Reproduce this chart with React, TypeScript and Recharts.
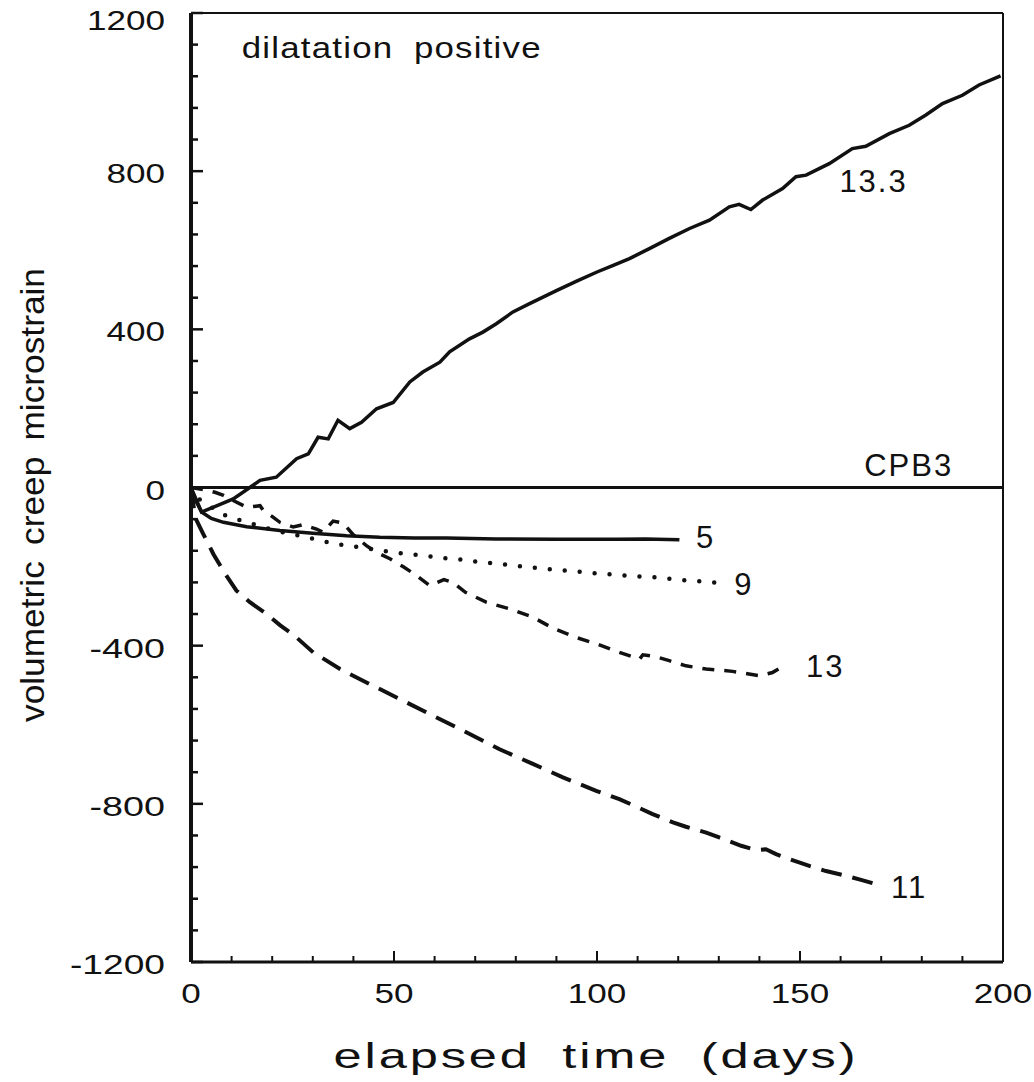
import {
  Label,
  Line,
  LineChart,
  ReferenceDot,
  ReferenceLine,
  XAxis,
  YAxis,
} from 'recharts'

// Values (days vs. volumetric creep microstrain).
const days133 = [0, 2.6, 6, 10.4, 14.5, 17, 21, 26, 28.9, 31.3, 33.8, 36.2, 39.1, 42, 45.7, 49.8, 53.9, 57.1, 61.3, 63.7, 68.6, 71.9, 75.2, 79.3, 83.4, 90, 95, 100, 104, 108, 112.9, 117.8, 122.8, 127.7, 132.6, 135, 137.9, 140.8, 145.7, 149, 151.5, 157.2, 162.9, 166.2, 172, 176.9, 181, 185.1, 190, 194.1, 199.4]
const strain133 = [0, -62, -48, -29, 0, 18, 26, 73, 85, 127, 123, 170, 149, 165, 199, 215, 267, 292, 317, 343, 376, 393, 414, 444, 465, 498, 522, 545, 562, 579, 604, 630, 655, 676, 710, 716, 703, 727, 756, 786, 790, 819, 857, 863, 895, 916, 942, 971, 992, 1018, 1041]

const days5 = [0, 1, 2.6, 5, 8, 13.7, 21.9, 30, 38.3, 46.5, 55, 62.9, 75.2, 90, 105, 112, 120.3]
const strain5 = [0, -30, -62, -78, -88, -99, -109, -116, -122, -126, -128, -128, -130, -131, -131, -130, -132]

const days9 = [0, 1.8, 7.5, 10.8, 14.5, 18.2, 23, 28.5, 32.1, 35.4, 39.1, 44, 49.8, 53.5, 56.7, 60.4, 64.1, 67.8, 71.1, 74.8, 78.5, 85.4, 92.4, 99.8, 107.2, 114.6, 121.9, 128.9]
const strain9 = [0, -28, -67, -79, -90, -102, -114, -126, -134, -143, -147, -155, -164, -168, -172, -176, -181, -183, -189, -192, -196, -204, -210, -217, -223, -227, -235, -240]

const days13 = [0, 3, 5.9, 8, 10.4, 13.7, 17, 17.8, 20.2, 21.9, 25.2, 27.6, 30.9, 32.5, 35, 37.5, 40, 43.2, 45.7, 49, 52.2, 55.5, 58.8, 62.3, 64.5, 67.6, 72.7, 78.5, 84.2, 89.2, 94.5, 100, 105.5, 110.5, 111.3, 114.6, 117.8, 121.9, 126.9, 133.4, 140, 143.2, 146.5]
const strain13 = [0, -5, -12, -20, -33, -50, -46, -58, -75, -88, -100, -94, -105, -113, -85, -90, -120, -147, -164, -180, -200, -222, -248, -233, -240, -265, -290, -307, -328, -356, -378, -396, -417, -434, -423, -428, -438, -451, -459, -465, -476, -468, -448]

const days11 = [0, 1, 3, 5.5, 8.4, 11.2, 14.5, 18.6, 21.9, 25.2, 30.1, 36.7, 44, 52.2, 59.6, 67.8, 76, 84.2, 91.6, 99.8, 105.5, 110.5, 113.7, 118.7, 121.9, 126.9, 130.1, 135.5, 139.2, 141.6, 144.1, 147.4, 152.3, 156.4, 161.3, 164.6, 168.3]
const strain11 = [0, -75, -117, -168, -218, -261, -290, -320, -348, -372, -417, -459, -497, -539, -577, -619, -662, -699, -733, -767, -788, -811, -826, -847, -858, -873, -885, -906, -917, -915, -927, -940, -957, -970, -982, -991, -1002]

const xTicks = Array.from({ length: 21 }, (_, i) => i * 10)
const yTicks = Array.from({ length: 31 }, (_, i) => -1200 + i * 80)

// curve labels: text, day, strain (text baseline)
const curveLabels: [string, number, number][] = [
  ['13.3', 159.7, 747],
  ['5', 124.4, -154],
  ['9', 133.8, -273],
  ['13', 151.5, -480],
  ['11', 172.4, -1037],
  ['CPB3', 165.8, 30],
]

const FONT = '"Liberation Sans", Arial, sans-serif'
const INK = '#111'

// the scanned lettering is wider than Arial, so labels are stretched to width
const numWidth = (s: string) =>
  s.replace('-', '').length * 19.5 + (s.startsWith('-') ? 17 : 0)

const toPoints = (days: number[], vals: number[]) =>
  days.map((d, i) => ({ day: d, v: vals[i] }))

const s133 = toPoints(days133, strain133)
const s5 = toPoints(days5, strain5)
const s9 = toPoints(days9, strain9)
const s13 = toPoints(days13, strain13)
const s11 = toPoints(days11, strain11)

function YTick({ x, y, payload }: any) {
  const v = payload.value as number
  const major = v % 400 === 0
  const s = String(v)
  return (
    <g>
      <line x1={x} x2={x + (major ? 12 : 7)} y1={y} y2={y} stroke={INK} strokeWidth={2.5} />
      {major && (
        <text
          x={x - 26}
          y={y + (v === 1200 ? 17 : 12)}
          textAnchor="end"
          fontFamily={FONT}
          fontSize={28}
          textLength={numWidth(s)}
          lengthAdjust="spacingAndGlyphs"
          fill={INK}
        >
          {s}
        </text>
      )}
    </g>
  )
}

function XTick({ x, y, payload }: any) {
  const v = payload.value as number
  const major = v % 50 === 0
  const s = String(v)
  return (
    <g>
      <line x1={x} x2={x} y1={y} y2={y - (major ? 11 : 6)} stroke={INK} strokeWidth={2} />
      {major && (
        <text
          x={x}
          y={y + 41}
          textAnchor="middle"
          fontFamily={FONT}
          fontSize={28}
          textLength={numWidth(s)}
          lengthAdjust="spacingAndGlyphs"
          fill={INK}
        >
          {s}
        </text>
      )}
    </g>
  )
}

export default function App() {
  return (
    <div style={{ position: 'absolute', left: 0, top: 0, background: '#fff' }}>
      <LineChart
        width={1034}
        height={1082}
        margin={{ top: 13, right: 31, bottom: 90, left: 131 }}
      >
        <XAxis
          dataKey="day"
          type="number"
          domain={[0, 200]}
          ticks={xTicks}
          interval={0}
          tick={<XTick />}
          tickLine={false}
          tickSize={0}
          tickMargin={0}
          axisLine={{ stroke: INK, strokeWidth: 3 }}
          allowDataOverflow
        >
          <Label
            content={() => (
              <text
                x={596}
                y={1068}
                textAnchor="middle"
                fontFamily={FONT}
                fontSize={35}
                letterSpacing={2}
                wordSpacing={10}
                textLength={525}
                lengthAdjust="spacingAndGlyphs"
                fill={INK}
              >
                elapsed time (days)
              </text>
            )}
          />
        </XAxis>
        <YAxis
          type="number"
          domain={[-1200, 1200]}
          ticks={yTicks}
          interval={0}
          tick={<YTick />}
          tickLine={false}
          tickSize={0}
          tickMargin={0}
          axisLine={{ stroke: INK, strokeWidth: 4 }}
          allowDataOverflow
        >
          <Label
            content={() => (
              <text
                transform="translate(44,495) rotate(-90)"
                textAnchor="middle"
                fontFamily={FONT}
                fontSize={33}
                wordSpacing={6}
                textLength={454}
                lengthAdjust="spacingAndGlyphs"
                fill={INK}
              >
                volumetric creep microstrain
              </text>
            )}
          />
        </YAxis>

        <ReferenceLine y={1200} stroke={INK} strokeWidth={2} />
        <ReferenceLine x={200} stroke={INK} strokeWidth={2} />
        <ReferenceLine y={0} stroke={INK} strokeWidth={3} />

        <Line data={s133} dataKey="v" type="linear" stroke={INK} strokeWidth={3.5} dot={false} isAnimationActive={false} />
        <Line data={s5} dataKey="v" type="linear" stroke={INK} strokeWidth={3.5} dot={false} isAnimationActive={false} />
        <Line
          data={s9}
          dataKey="v"
          type="linear"
          stroke={INK}
          strokeWidth={4.5}
          strokeDasharray="0 15"
          strokeLinecap="round"
          dot={false}
          isAnimationActive={false}
        />
        <Line data={s13} dataKey="v" type="linear" stroke={INK} strokeWidth={3.5} strokeDasharray="12 10" dot={false} isAnimationActive={false} />
        <Line data={s11} dataKey="v" type="linear" stroke={INK} strokeWidth={4} strokeDasharray="21 11" dot={false} isAnimationActive={false} />

        <ReferenceDot
          x={12.5}
          y={1112}
          r={1}
          ifOverflow="visible"
          shape={(p: any) => (
            <text
              x={p.cx}
              y={p.cy + 10}
              fontFamily={FONT}
              fontSize={29}
              letterSpacing={1}
              wordSpacing={8}
              textLength={300}
              lengthAdjust="spacingAndGlyphs"
              fill={INK}
            >
              dilatation positive
            </text>
          )}
        />
        {curveLabels.map(([text, day, val]) => (
          <ReferenceDot
            key={text}
            x={day}
            y={val}
            r={1}
            ifOverflow="visible"
            shape={(p: any) => (
              <text x={p.cx} y={p.cy} fontFamily={FONT} fontSize={31} letterSpacing={2} fill={INK}>
                {text}
              </text>
            )}
          />
        ))}
      </LineChart>
    </div>
  )
}
